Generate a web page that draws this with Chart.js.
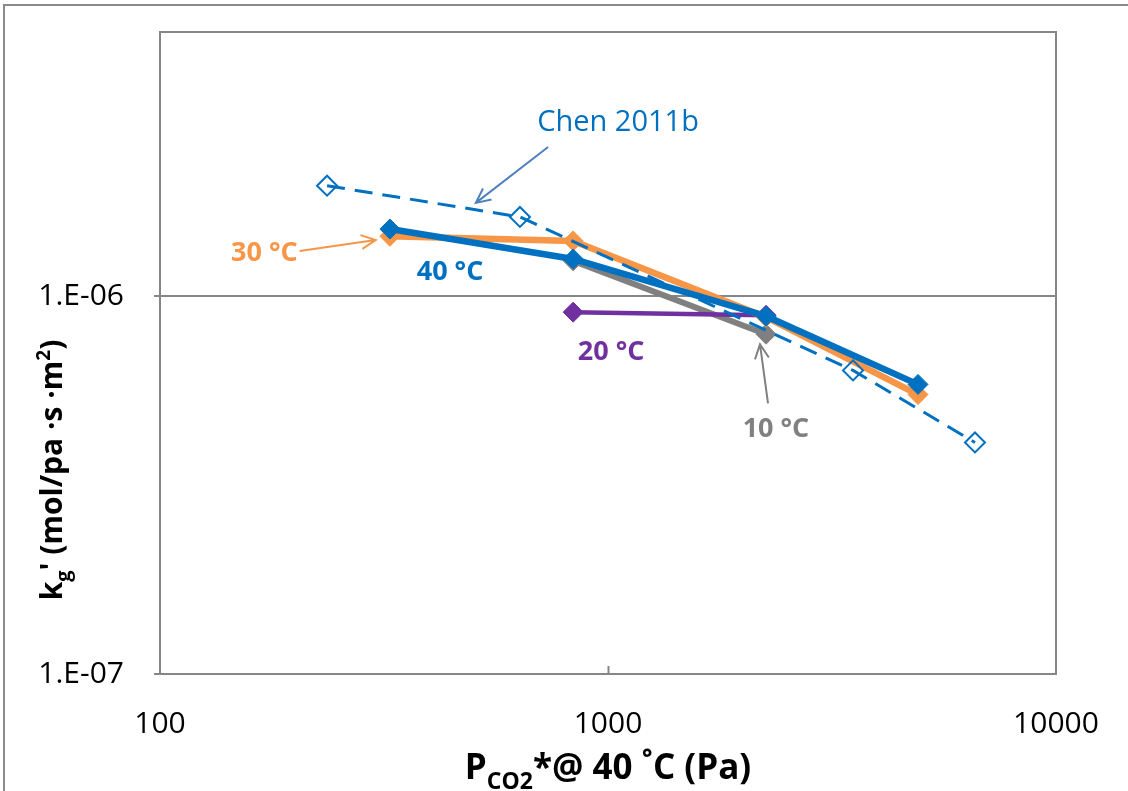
<!DOCTYPE html>
<html>
<head>
<meta charset="utf-8">
<script src="https://cdn.jsdelivr.net/npm/chart.js@4/dist/chart.umd.min.js"></script>
<style>
  html, body { margin: 0; padding: 0; background: #fff; }
  canvas { display: block; }
</style>
</head>
<body>
<canvas id="chart" width="1128" height="791"></canvas>
<script>
// Axis ticks
const xTicks = [100, 1000, 10000];
const yTicks = [1e-7, 1e-6];

// Chen 2011b reference data
const chenP = [236, 636, 3523, 6594];
const chenK = [1.96e-6, 1.62e-6, 6.36e-7, 4.10e-7];

// Measured series, by temperature
const p40 = [326, 836, 2253, 4920];
const k40 = [1.505e-6, 1.254e-6, 8.85e-7, 5.84e-7];
const p30 = [326, 836, 2253, 4920];
const k30 = [1.44e-6, 1.40e-6, 8.8e-7, 5.49e-7];
const p20 = [836, 2253];
const k20 = [9.07e-7, 8.9e-7];
const p10 = [836, 2253];
const k10 = [1.24e-6, 7.93e-7];

const BLUE = '#0070C0', ORANGE = '#F79646', GRAY = '#808080', PURPLE = '#7030A0';
const FONT = '"Open Sans", "Liberation Sans", sans-serif';

const pts = (xs, ys) => xs.map((x, i) => ({ x, y: ys[i] }));

// Callout labels and arrows, placed in data space
const labels = [
  { text: 'Chen 2011b', p: 1053, k: 2.88e-6, color: BLUE, bold: false },
  { text: '30 °C', p: 171, k: 1.30e-6, color: ORANGE, bold: true },
  { text: '40 °C', p: 444, k: 1.158e-6, color: BLUE, bold: true },
  { text: '20 °C', p: 1016, k: 7.1e-7, color: PURPLE, bold: true },
  { text: '10 °C', p: 2371, k: 4.44e-7, color: GRAY, bold: true }
];
const arrows = [
  { from: [735, 2.48e-6], to: [507, 1.765e-6], color: '#4F81BD' },
  { from: [205, 1.316e-6], to: [303, 1.408e-6], color: ORANGE },
  { from: [2276, 5.2e-7], to: [2184, 7.46e-7], color: GRAY }
];

function drawRich(ctx, parts, x, y) {
  let w = 0;
  parts.forEach(p => { ctx.font = p.font; w += ctx.measureText(p.t).width; });
  let cx = x - w / 2;
  ctx.textAlign = 'left';
  ctx.textBaseline = 'alphabetic';
  parts.forEach(p => {
    ctx.font = p.font;
    ctx.fillText(p.t, cx, y + (p.dy || 0));
    cx += ctx.measureText(p.t).width;
  });
}

const decor = {
  id: 'decor',
  beforeDraw(chart) {
    const ctx = chart.ctx;
    ctx.save();
    ctx.strokeStyle = '#8a8a8a';
    ctx.lineWidth = 2;
    ctx.strokeRect(4, 5, 1300, 1000);
    ctx.restore();
  },
  afterDraw(chart) {
    const ctx = chart.ctx;
    const a = chart.chartArea;
    const xs = chart.scales.x, ys = chart.scales.y;
    ctx.save();
    // plot frame
    ctx.strokeStyle = '#868686';
    ctx.lineWidth = 2;
    ctx.strokeRect(a.left, a.top, a.right - a.left, a.bottom - a.top);
    // small inward ticks on the x axis
    xTicks.slice(1, -1).forEach(v => {
      const px = Math.round(xs.getPixelForValue(v)) + 0.5;
      ctx.beginPath();
      ctx.moveTo(px, a.bottom);
      ctx.lineTo(px, a.bottom - 8);
      ctx.stroke();
    });

    // arrows
    arrows.forEach(ar => {
      const x1 = xs.getPixelForValue(ar.from[0]), y1 = ys.getPixelForValue(ar.from[1]);
      const x2 = xs.getPixelForValue(ar.to[0]), y2 = ys.getPixelForValue(ar.to[1]);
      const ang = Math.atan2(y2 - y1, x2 - x1);
      ctx.strokeStyle = ar.color;
      ctx.lineWidth = 2;
      ctx.beginPath();
      ctx.moveTo(x1, y1);
      ctx.lineTo(x2, y2);
      ctx.moveTo(x2 - 16 * Math.cos(ang - 0.45), y2 - 16 * Math.sin(ang - 0.45));
      ctx.lineTo(x2, y2);
      ctx.lineTo(x2 - 16 * Math.cos(ang + 0.45), y2 - 16 * Math.sin(ang + 0.45));
      ctx.stroke();
    });

    // labels
    labels.forEach(l => {
      ctx.fillStyle = l.color;
      ctx.font = (l.bold ? 'bold 27px ' : '29px ') + FONT;
      ctx.textAlign = 'center';
      ctx.textBaseline = 'middle';
      ctx.fillText(l.text, xs.getPixelForValue(l.p), ys.getPixelForValue(l.k));
    });

    // axis titles
    ctx.fillStyle = '#000';
    drawRich(ctx, [
      { t: 'P', font: 'bold 35px ' + FONT },
      { t: 'CO2', font: 'bold 23px ' + FONT, dy: 10 },
      { t: '*@ 40 ˚C (Pa)', font: 'bold 35px ' + FONT }
    ], (a.left + a.right) / 2, 779);

    ctx.save();
    ctx.translate(62, 470);
    ctx.rotate(-Math.PI / 2);
    drawRich(ctx, [
      { t: 'k', font: 'bold 30px ' + FONT },
      { t: 'g', font: 'bold 20px ' + FONT, dy: 8 },
      { t: "' (mol/pa ·s ·m", font: 'bold 30px ' + FONT },
      { t: '2', font: 'bold 19px ' + FONT, dy: -12 },
      { t: ')', font: 'bold 30px ' + FONT }
    ], 0, 0);
    ctx.restore();
    ctx.restore();
  }
};

const series = (data, color, width) => ({
  data, showLine: true, borderColor: color, backgroundColor: color,
  borderWidth: width, pointStyle: 'rectRot', pointRadius: 10,
  pointBorderWidth: 1, pointBackgroundColor: color, pointBorderColor: color
});

new Chart(document.getElementById('chart'), {
  type: 'scatter',
  data: {
    datasets: [
      {
        data: pts(chenP, chenK), showLine: true, borderColor: BLUE,
        borderWidth: 3, borderDash: [18, 10], pointStyle: 'rectRot',
        pointRadius: 10, pointBorderWidth: 2, pointBorderColor: BLUE,
        pointBackgroundColor: 'rgba(0,0,0,0)'
      },
      series(pts(p40, k40), BLUE, 6.5),
      series(pts(p30, k30), ORANGE, 6.5),
      series(pts(p20, k20), PURPLE, 4.5),
      series(pts(p10, k10), GRAY, 6)
    ]
  },
  options: {
    responsive: false,
    animation: false,
    layout: { padding: { top: 32, right: 72, left: 0, bottom: 0 } },
    plugins: { legend: { display: false }, tooltip: { enabled: false } },
    scales: {
      x: {
        type: 'logarithmic', min: 100, max: 10000,
        afterBuildTicks: s => { s.ticks = xTicks.map(v => ({ value: v })); },
        afterFit: s => { s.height = 117; s.paddingLeft = 0; s.paddingRight = 0; },
        grid: { display: false, drawTicks: false },
        border: { display: true, color: '#868686', width: 2 },
        ticks: {
          callback: v => String(v), color: '#000', padding: 32,
          maxRotation: 0, font: { family: FONT, size: 30 }
        }
      },
      y: {
        type: 'logarithmic', min: 1e-7, max: 5e-6,
        afterBuildTicks: s => { s.ticks = yTicks.map(v => ({ value: v })); },
        afterFit: s => { s.width = 160; s.paddingTop = 0; s.paddingBottom = 0; },
        grid: { color: '#868686', lineWidth: 2, tickLength: 6 },
        border: { display: true, color: '#868686', width: 2 },
        ticks: {
          callback: v => '1.E' + (Math.round(Math.log10(v)) < 0 ? '-' : '+') +
            String(Math.abs(Math.round(Math.log10(v)))).padStart(2, '0'),
          color: '#000', padding: 30, font: { family: FONT, size: 30 }
        }
      }
    }
  },
  plugins: [decor]
});
</script>
</body>
</html>
